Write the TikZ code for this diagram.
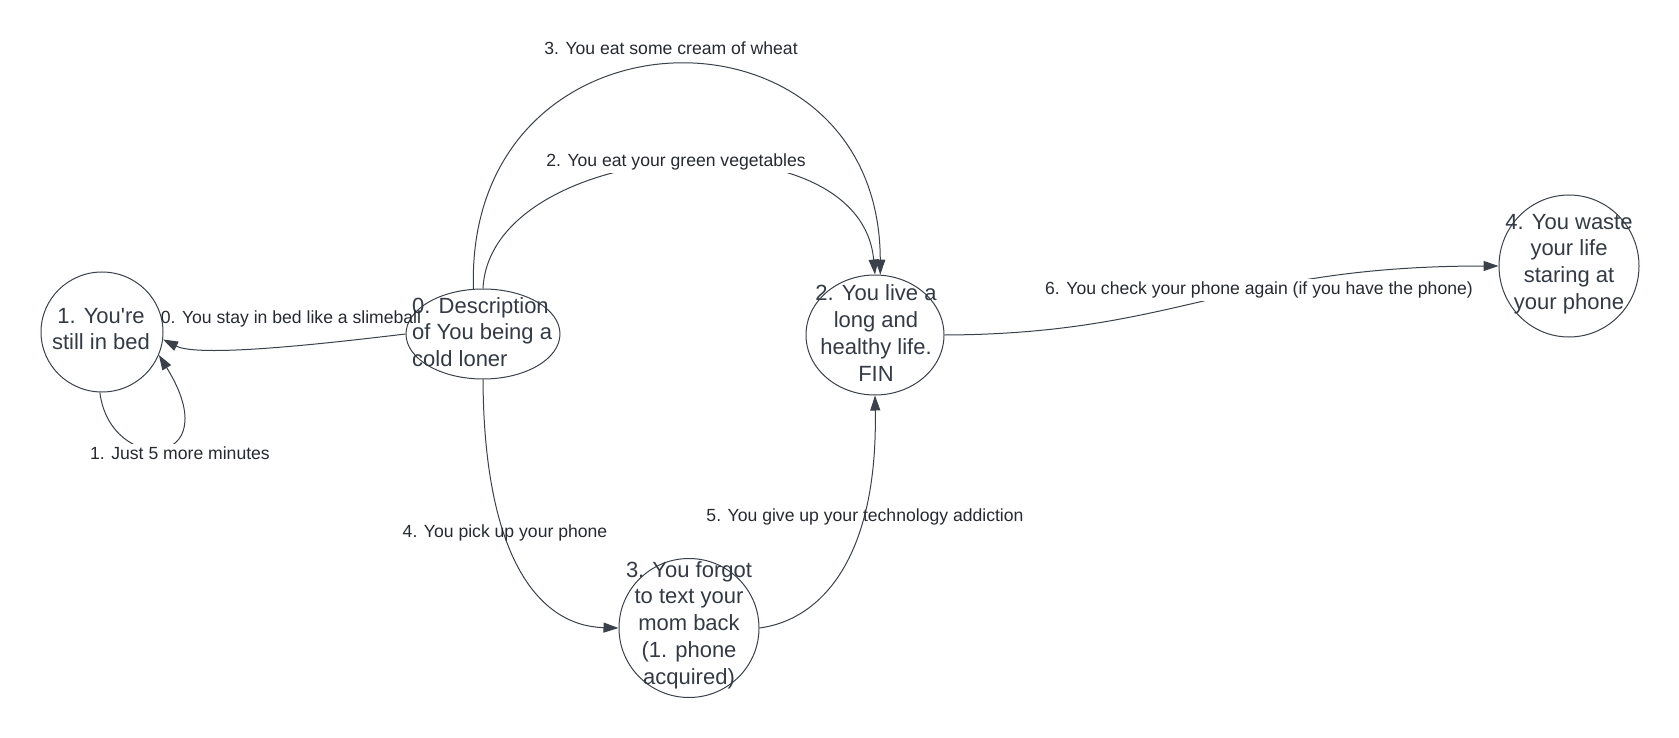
\documentclass[tikz,border=0pt]{standalone}
\usepackage{fontspec}
\setmainfont{Liberation Sans}[Ligatures=TeXOff]
\usetikzlibrary{arrows.meta,shapes.geometric}
\definecolor{linec}{HTML}{3A414A}
\definecolor{textc}{HTML}{333A45}
\definecolor{labc}{HTML}{262A30}
\begin{document}
\begin{tikzpicture}[x=1pt,y=-1pt,
  statebox/.style={draw=linec,line width=1pt,ellipse,inner sep=0pt},
  stattext/.style={text=textc,align=center,inner sep=0pt,font=\fontsize{22}{26.7}\selectfont},
  edgelab/.style={text=labc,inner sep=3pt,font=\fontsize{17.6}{20}\selectfont},
  edgelabfill/.style={edgelab,fill=white},
  conn/.style={draw=linec,line width=1pt,-{Triangle[length=15pt,width=10pt]}}]
\useasboundingbox (0,0) rectangle (1679,738);
% states
\node[statebox,minimum width=122pt,minimum height=120pt] (n1) at (102,332) {};
\node[stattext] (t1) at (101,329) {1. You're\\still in bed};
\node[statebox,minimum width=154pt,minimum height=90pt] (n0) at (483,334) {};
\node[stattext,align=left,anchor=west] (t0) at (412,332) {0. Description\\of You being a\\cold loner};
\node[statebox,minimum width=138pt,minimum height=120pt] (n2) at (875,335) {};
\node[stattext] (t2) at (876,333) {2. You live a\\long and\\healthy life.\\FIN};
\node[statebox,minimum width=140pt,minimum height=142pt] (n4) at (1569,266) {};
\node[stattext] (t4) at (1569,264) {4. You waste\\your life\\staring at\\your phone};
\node[statebox,minimum width=140pt,minimum height=139pt] (n3) at (689,628) {};
\node[stattext] (t3) at (689,625) {3. You forgot\\to text your\\mom back\\(1. phone\\acquired)};
% connectors
\draw[conn] (n0.west) .. controls (330,343) and (200,358) .. (n1.-7);
\draw[conn] (n1.-92) .. controls (110,475) and (230,470) .. (n1.-22);
\draw[conn] (n0.102) .. controls (465,-5) and (880,-10) .. (n2.85);
\draw[conn] (n0.north) .. controls (490,140) and (860,110) .. (n2.north);
\draw[conn] (n0.south) .. controls (484,560) and (540,626) .. (n3.west);
\draw[conn] (n3.east) .. controls (820,620) and (878,560) .. (n2.south);
\draw[conn] (n2.east) .. controls (1180,334) and (1230,266) .. (n4.west);
% labels
\node[edgelab] (l0) at (291,319) {0. You stay in bed like a slimeball};
\node[edgelabfill] (l1) at (180,453) {1. Just 5 more minutes};
\node[edgelab] (l3) at (671,48) {3. You eat some cream of wheat};
\node[edgelabfill] (l2) at (676,162) {2. You eat your green vegetables};
\node[edgelab] (l4) at (505,533) {4. You pick up your phone};
\node[edgelab] (l5) at (865,517) {5. You give up your technology addiction};
\node[edgelabfill] (l6) at (1259,290) {6. You check your phone again (if you have the phone)};
\end{tikzpicture}
\end{document}
